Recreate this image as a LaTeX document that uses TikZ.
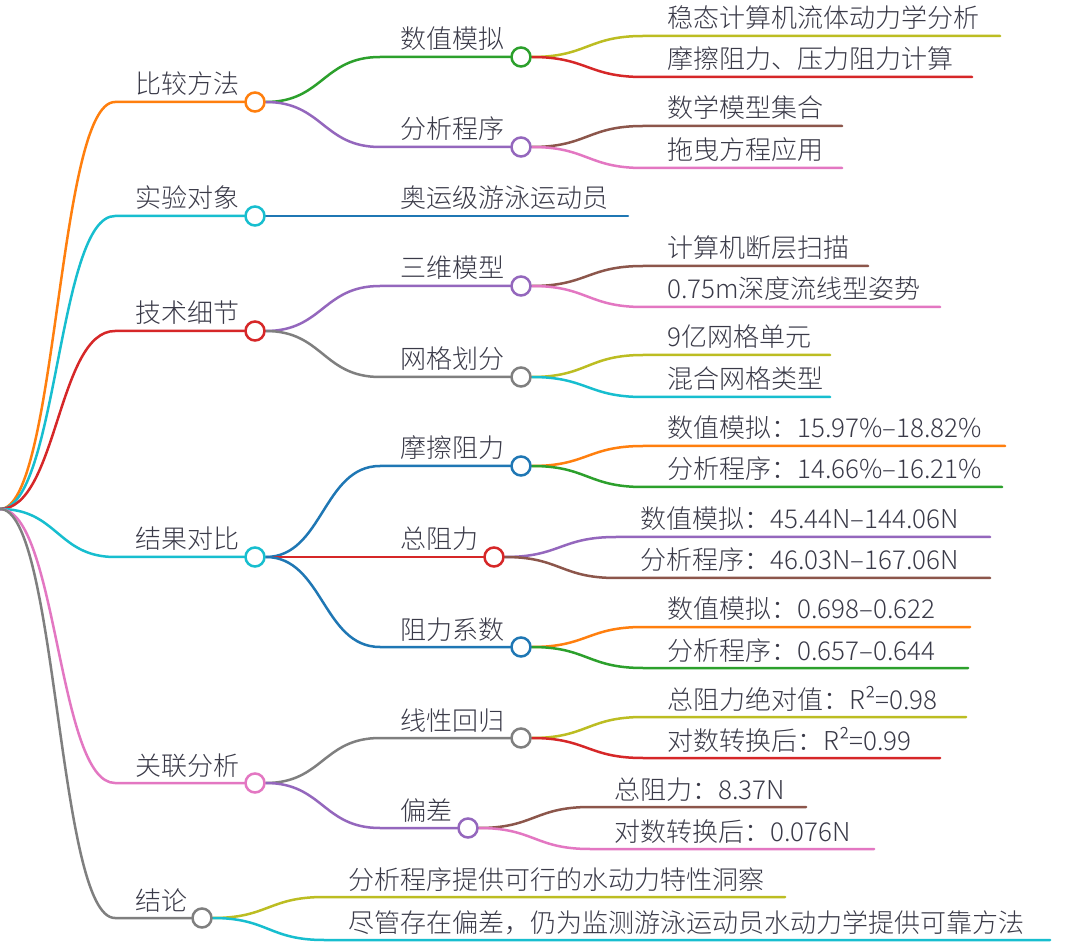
\documentclass[tikz,border=0pt]{standalone}
\usepackage{fontspec}
\setmainfont{Noto Sans CJK SC}[UprightFont=* Light]
\usetikzlibrary{calc,backgrounds}
\definecolor{cOrange}{HTML}{FF7F0E}
\definecolor{cCyan}{HTML}{17BECF}
\definecolor{cRed}{HTML}{D62728}
\definecolor{cGreen}{HTML}{2CA02C}
\definecolor{cPurple}{HTML}{9467BD}
\definecolor{cBlue}{HTML}{1F77B4}
\definecolor{cBrown}{HTML}{8C564B}
\definecolor{cPink}{HTML}{E377C2}
\definecolor{cGray}{HTML}{7F7F7F}
\definecolor{cOlive}{HTML}{BCBD22}
\definecolor{txt}{HTML}{3A3A48}
\newcommand\mmedge[4]{\draw[link,#1] (#2) .. controls ($(#2)!0.5!(#2 -| #3)$) and ($(#3)!0.5!(#3 -| #2)$) .. (#3) -- (#4);}
\begin{document}
\begin{tikzpicture}[x=1pt,y=-1pt,
  link/.style={line width=2.5pt,line cap=round},
  dot/.style={circle,line width=2.5pt,fill=white,minimum size=19pt,inner sep=0pt},
  lbl/.style={anchor=base west,inner sep=0pt,text=txt,font=\fontsize{26}{30}\selectfont}]
\useasboundingbox (0,0) rectangle (1080,949);
\coordinate (root) at (0,509);
% ---------- level 1
\coordinate (As) at (115,102); \node[dot,draw=cOrange] (A) at (255,102) {}; \node[lbl] (At) at (135,94) {比较方法};
\coordinate (Bs) at (115,216); \node[dot,draw=cCyan] (B) at (255,216) {}; \node[lbl] (Bt) at (135,208) {实验对象};
\coordinate (Cs) at (115,331); \node[dot,draw=cRed] (C) at (255,331) {}; \node[lbl] (Ct) at (135,323) {技术细节};
\coordinate (Ds) at (115,557); \node[dot,draw=cCyan] (D) at (255,557) {}; \node[lbl] (Dt) at (135,549) {结果对比};
\coordinate (Es) at (115,783); \node[dot,draw=cPink] (E) at (255,783) {}; \node[lbl] (Et) at (135,775) {关联分析};
\coordinate (Fs) at (115,918); \node[dot,draw=cGray] (F) at (202,918) {}; \node[lbl] (Ft) at (135,910) {结论};
% ---------- level 2
\coordinate (A1s) at (380,57);  \node[dot,draw=cGreen] (A1) at (521,57) {};  \node[lbl] (A1t) at (400,49) {数值模拟};
\coordinate (A2s) at (380,147); \node[dot,draw=cPurple] (A2) at (521,147) {}; \node[lbl] (A2t) at (400,139) {分析程序};
\coordinate (B1s) at (380,216); \coordinate (B1e) at (628,216); \node[lbl] (B1t) at (400,208) {奥运级游泳运动员};
\coordinate (C1s) at (380,286); \node[dot,draw=cPurple] (C1) at (521,286) {}; \node[lbl] (C1t) at (400,278) {三维模型};
\coordinate (C2s) at (380,377); \node[dot,draw=cGray] (C2) at (521,377) {}; \node[lbl] (C2t) at (400,369) {网格划分};
\coordinate (D1s) at (380,466); \node[dot,draw=cBlue] (D1) at (521,466) {}; \node[lbl] (D1t) at (400,458) {摩擦阻力};
\coordinate (D2s) at (380,557); \node[dot,draw=cRed] (D2) at (494,557) {}; \node[lbl] (D2t) at (400,549) {总阻力};
\coordinate (D3s) at (380,647); \node[dot,draw=cBlue] (D3) at (521,647) {}; \node[lbl] (D3t) at (400,639) {阻力系数};
\coordinate (E1s) at (380,738); \node[dot,draw=cGray] (E1) at (521,738) {}; \node[lbl] (E1t) at (400,730) {线性回归};
\coordinate (E2s) at (380,828); \node[dot,draw=cPurple] (E2) at (468,828) {}; \node[lbl] (E2t) at (400,820) {偏差};
\coordinate (F1s) at (324,897); \coordinate (F1e) at (785,897); \node[lbl] (F1t) at (348,889) {分析程序提供可行的水动力特性洞察};
\coordinate (F2s) at (324,940); \coordinate (F2e) at (1050,940); \node[lbl] (F2t) at (348,932) {尽管存在偏差，仍为监测游泳运动员水动力学提供可靠方法};
% ---------- level 3
\coordinate (A1as) at (643,36);  \coordinate (A1ae) at (1000,36); \node[lbl] (A1at) at (667,28) {稳态计算机流体动力学分析};
\coordinate (A1bs) at (643,77);  \coordinate (A1be) at (972,77);  \node[lbl] (A1bt) at (667,69) {摩擦阻力、压力阻力计算};
\coordinate (A2as) at (643,126); \coordinate (A2ae) at (842,126); \node[lbl] (A2at) at (667,118) {数学模型集合};
\coordinate (A2bs) at (643,168); \coordinate (A2be) at (842,168); \node[lbl] (A2bt) at (667,160) {拖曳方程应用};
\coordinate (C1as) at (643,266); \coordinate (C1ae) at (868,266); \node[lbl] (C1at) at (667,258) {计算机断层扫描};
\coordinate (C1bs) at (643,307); \coordinate (C1be) at (940,307); \node[lbl] (C1bt) at (667,299) {0.75m深度流线型姿势};
\coordinate (C2as) at (643,355); \coordinate (C2ae) at (830,355); \node[lbl] (C2at) at (667,347) {9亿网格单元};
\coordinate (C2bs) at (643,397); \coordinate (C2be) at (830,397); \node[lbl] (C2bt) at (667,389) {混合网格类型};
\coordinate (D1as) at (643,446); \coordinate (D1ae) at (1005,446); \node[lbl] (D1at) at (667,438) {数值模拟：15.97\%–18.82\%};
\coordinate (D1bs) at (643,487); \coordinate (D1be) at (1002,487); \node[lbl] (D1bt) at (667,479) {分析程序：14.66\%–16.21\%};
\coordinate (D2as) at (616,537); \coordinate (D2ae) at (990,537); \node[lbl] (D2at) at (640,529) {数值模拟：45.44N–144.06N};
\coordinate (D2bs) at (616,578); \coordinate (D2be) at (990,578); \node[lbl] (D2bt) at (640,570) {分析程序：46.03N–167.06N};
\coordinate (D3as) at (643,627); \coordinate (D3ae) at (970,627); \node[lbl] (D3at) at (667,619) {数值模拟：0.698–0.622};
\coordinate (D3bs) at (643,668); \coordinate (D3be) at (968,668); \node[lbl] (D3bt) at (667,660) {分析程序：0.657–0.644};
\coordinate (E1as) at (643,717); \coordinate (E1ae) at (966,717); \node[lbl] (E1at) at (667,709) {总阻力绝对值：R²=0.98};
\coordinate (E1bs) at (643,758); \coordinate (E1be) at (940,758); \node[lbl] (E1bt) at (667,750) {对数转换后：R²=0.99};
\coordinate (E2as) at (590,807); \coordinate (E2ae) at (806,807); \node[lbl] (E2at) at (614,799) {总阻力：8.37N};
\coordinate (E2bs) at (590,849); \coordinate (E2be) at (874,849); \node[lbl] (E2bt) at (614,841) {对数转换后：0.076N};
% ---------- connectors
\begin{scope}[on background layer]
\fill[white] (0,0) rectangle (1080,949);
\mmedge{cOrange}{root}{As}{A}
\mmedge{cCyan}{root}{Bs}{B}
\mmedge{cRed}{root}{Cs}{C}
\mmedge{cCyan}{root}{Ds}{D}
\mmedge{cPink}{root}{Es}{E}
\mmedge{cGray}{root}{Fs}{F}
\mmedge{cGreen}{A.east}{A1s}{A1}
\mmedge{cPurple}{A.east}{A2s}{A2}
\draw[link,cBlue] (B.east) -- (B1e);
\mmedge{cPurple}{C.east}{C1s}{C1}
\mmedge{cGray}{C.east}{C2s}{C2}
\mmedge{cBlue}{D.east}{D1s}{D1}
\draw[link,cRed] (D.east) -- (D2);
\mmedge{cBlue}{D.east}{D3s}{D3}
\mmedge{cGray}{E.east}{E1s}{E1}
\mmedge{cPurple}{E.east}{E2s}{E2}
\mmedge{cOlive}{F.east}{F1s}{F1e}
\mmedge{cCyan}{F.east}{F2s}{F2e}
\mmedge{cOlive}{A1.east}{A1as}{A1ae}
\mmedge{cRed}{A1.east}{A1bs}{A1be}
\mmedge{cBrown}{A2.east}{A2as}{A2ae}
\mmedge{cPink}{A2.east}{A2bs}{A2be}
\mmedge{cBrown}{C1.east}{C1as}{C1ae}
\mmedge{cPink}{C1.east}{C1bs}{C1be}
\mmedge{cOlive}{C2.east}{C2as}{C2ae}
\mmedge{cCyan}{C2.east}{C2bs}{C2be}
\mmedge{cOrange}{D1.east}{D1as}{D1ae}
\mmedge{cGreen}{D1.east}{D1bs}{D1be}
\mmedge{cPurple}{D2.east}{D2as}{D2ae}
\mmedge{cBrown}{D2.east}{D2bs}{D2be}
\mmedge{cOrange}{D3.east}{D3as}{D3ae}
\mmedge{cGreen}{D3.east}{D3bs}{D3be}
\mmedge{cOlive}{E1.east}{E1as}{E1ae}
\mmedge{cRed}{E1.east}{E1bs}{E1be}
\mmedge{cBrown}{E2.east}{E2as}{E2ae}
\mmedge{cPink}{E2.east}{E2bs}{E2be}
\end{scope}
\end{tikzpicture}
\end{document}
